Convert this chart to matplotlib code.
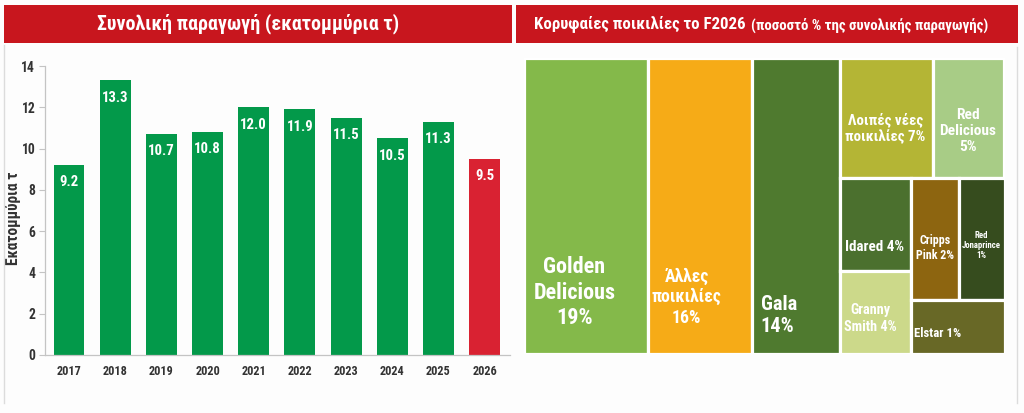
import matplotlib
matplotlib.use("Agg")
import matplotlib.pyplot as plt
from matplotlib import font_manager as fm
from matplotlib.patches import Rectangle
from matplotlib.lines import Line2D

# ---------------- data ----------------
years = ["2017", "2018", "2019", "2020", "2021", "2022", "2023", "2024", "2025", "2026"]
production = [9.2, 13.3, 10.7, 10.8, 12.0, 11.9, 11.5, 10.5, 11.3, 9.5]
forecast_year = "2026"

varieties = ["Golden\nDelicious", "Άλλες\nποικιλίες", "Gala", "Λοιπές νέες\nποικιλίες",
             "Red\nDelicious", "Idared", "Granny\nSmith", "Cripps\nPink",
             "Red\nJonaprince", "Elstar"]
share_pct = [19, 16, 14, 7, 5, 4, 4, 2, 1, 1]
# area of each tile as drawn in the reference (% of the treemap)
tile_area = [25.84, 21.76, 18.20, 7.85, 6.10, 4.63, 4.10, 4.15, 3.89, 3.49]

title_left = "Συνολική παραγωγή (εκατομμύρια τ)"
title_right_main = "Κορυφαίες ποικιλίες το F2026"
title_right_sub = "(ποσοστό % της συνολικής παραγωγής)"
ylabel = "Εκατομμύρια τ"

# ---------------- style ----------------
names = {f.name for f in fm.fontManager.ttflist}
FONT = "Roboto"
for cand in ["Liberation Sans Narrow", "Roboto Condensed", "Open Sans Condensed"]:
    if cand in names:
        FONT = cand
        break
plt.rcParams["font.family"] = [FONT, "DejaVu Sans"]
plt.rcParams["font.weight"] = "bold"

W, H = 1024, 413
fig = plt.figure(figsize=(W / 100, H / 100), dpi=100, facecolor="#fdfdfd")
renderer = fig.canvas.get_renderer()

def fx(px):
    return px / W

def fy(py):
    return 1 - py / H

def size_for(s, target_px):
    """font size (pt) so that the widest line of s is target_px wide"""
    best = 0
    for line in s.split("\n"):
        t = fig.text(0, 0, line, fontsize=10, fontweight="bold")
        best = max(best, t.get_window_extent(renderer).width)
        t.remove()
    return 10 * target_px / best

RED = "#c8161e"
GREEN = "#03994a"
FORECAST = "#d92232"
TXT = "#333333"

# header bands
for x0, x1 in [(4, 512), (516, 1018)]:
    fig.add_artist(Rectangle((fx(x0), fy(43)), fx(x1 - x0), (43 - 5) / H,
                             transform=fig.transFigure, facecolor=RED,
                             edgecolor="none", zorder=0))
fig.text(fx(248), fy(24), title_left, color="white",
         fontsize=size_for(title_left, 302), ha="center", va="center",
         fontweight="bold")
fig.text(fx(534), fy(24), title_right_main, color="white",
         fontsize=size_for(title_right_main, 212), ha="left", va="center",
         fontweight="bold")
fig.text(fx(988), fy(25), title_right_sub, color="white",
         fontsize=size_for(title_right_sub, 238), ha="right", va="center",
         fontweight="bold")

# panel borders
fig.add_artist(Line2D([fx(4), fx(4)], [fy(45), fy(403)], transform=fig.transFigure,
                      color="#dcdcdc", lw=1))
fig.add_artist(Line2D([fx(1017), fx(1017)], [fy(47), fy(403)], transform=fig.transFigure,
                      color="#dcdcdc", lw=1))

# ---------------- bar chart ----------------
ax = fig.add_axes([fx(45), fy(355), fx(510 - 45), (355 - 66) / H])
ax.set_facecolor("none")
colors = [FORECAST if y == forecast_year else GREEN for y in years]
xs = range(len(years))
ax.bar(xs, production, width=0.67, color=colors, zorder=2)
bar_fs = size_for("13.3", 27)
for i, v in zip(xs, production):
    ax.annotate(f"{v:.1f}", (i, v), xytext=(0, -12.5), textcoords="offset points",
                ha="center", va="center", color="white", fontsize=bar_fs,
                fontweight="bold")
ax.set_ylim(0, 14)
ax.set_xlim(-0.52, 9.55)
ax.set_yticks(range(0, 15, 2))
ax.set_xticks(list(xs))
ax.set_xticklabels(years)
for s in ["top", "right"]:
    ax.spines[s].set_visible(False)
for s in ["left", "bottom"]:
    ax.spines[s].set_color("#c4c4c4")
    ax.spines[s].set_linewidth(0.9)
ax.tick_params(axis="y", length=4, color="#c4c4c4", labelsize=size_for("14", 14),
               labelcolor=TXT, pad=3)
ax.tick_params(axis="x", length=0, labelsize=size_for("2017", 25), labelcolor=TXT, pad=7)
for lab in ax.get_xticklabels() + ax.get_yticklabels():
    lab.set_fontweight("bold")
ax.set_ylabel(ylabel, fontsize=size_for(ylabel, 94), color=TXT, fontweight="bold")
ax.yaxis.set_label_coords(-0.052, 0.474)

# ---------------- treemap ----------------
tile_colors = ["#84b94a", "#f6ab17", "#4f7a2f", "#b4b535", "#a8cc86",
               "#4b702e", "#ccd98a", "#8d6510", "#364c1e", "#686826"]
label_sep = ["\n", "\n", "\n", " ", "\n", " ", " ", " ", "\n", " "]
# (relative x, relative y from top, width of widest label line in px, alignment)
label_style = [(0.41, 0.795, 82, "center"), (0.37, 0.81, 70, "center"),
               (0.095, 0.873, 36, "left"), (0.49, 0.59, 80, "center"),
               (0.49, 0.61, 57, "center"), (0.485, 0.74, 59, "center"),
               (0.43, 0.575, 53, "center"), (0.5, 0.57, 38, "center"),
               (0.48, 0.55, 39, "center"), (0.29, 0.63, 47, "center")]

layout = ("h", [0, 1, 2, ("v", [("h", [3, 4]),
                                ("h", [("v", [5, 6]),
                                       ("v", [("h", [7, 8]), 9])])])])

def weight(node):
    if isinstance(node, int):
        return tile_area[node]
    return sum(weight(k) for k in node[1])

def place(node, x, y, w, h, out):
    if isinstance(node, int):
        out[node] = (x, y, w, h)
        return
    d, kids = node
    tot = weight(node)
    pos = 0.0
    for k in kids:
        f = weight(k) / tot
        if d == "h":
            place(k, x + pos * w, y, f * w, h, out)
        else:
            place(k, x, y + pos * h, w, f * h, out)
        pos += f

rects = {}
place(layout, 0.0, 0.0, 1.0, 1.0, rects)

tx0, tx1, ty0, ty1 = 523.5, 1004.5, 57.5, 353.5
axt = fig.add_axes([fx(tx0), fy(ty1), fx(tx1 - tx0), (ty1 - ty0) / H])
axt.set_xlim(0, 1)
axt.set_ylim(1, 0)
axt.axis("off")
for i in range(len(varieties)):
    x, y, w, h = rects[i]
    axt.add_patch(Rectangle((x, y), w, h, facecolor=tile_colors[i],
                            edgecolor="white", linewidth=2.3))
    rx, ry, tw, ha = label_style[i]
    label = f"{varieties[i]}{label_sep[i]}{share_pct[i]}%"
    axt.text(x + rx * w, y + ry * h, label,
             ha=ha, va="center", ma="center" if ha == "center" else "left",
             color="white", fontsize=size_for(label, tw), fontweight="bold",
             linespacing=1.2)

fig.savefig("out.png", dpi=100, facecolor=fig.get_facecolor())
